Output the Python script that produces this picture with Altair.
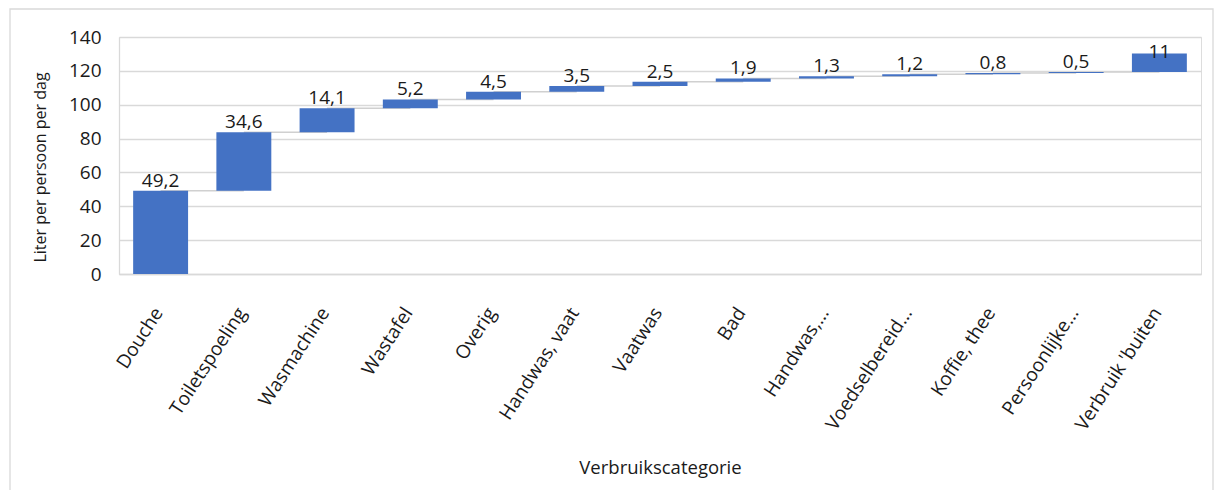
import altair as alt
import pandas as pd

# Water use per person per day, by category (litres)
categories = [
    "Douche", "Toiletspoeling", "Wasmachine", "Wastafel", "Overig",
    "Handwas, vaat", "Vaatwas", "Bad", "Handwas,…", "Voedselbereid…",
    "Koffie, thee", "Persoonlijke…", "Verbruik 'buiten",
]
values = [49.2, 34.6, 14.1, 5.2, 4.5, 3.5, 2.5, 1.9, 1.3, 1.2, 0.8, 0.5, 11]
y_ticks = [0, 20, 40, 60, 80, 100, 120, 140]

# Waterfall: each step starts where the previous one ended
starts, ends = [], []
running = 0.0
for v in values:
    starts.append(round(running, 2))
    running += v
    ends.append(round(running, 2))

bars_df = pd.DataFrame({
    "cat": categories,
    "start": starts,
    "end": ends,
    "label": [str(v).replace(".", ",") for v in values],
})

conn_df = pd.DataFrame({
    "cat": categories[:-1],
    "next_cat": categories[1:],
    "level": ends[:-1],
})

FONT = "Open Sans"
BLUE = "#4472C4"
GRID = "#d9d9d9"
INK = "#1a1a1a"

x_scale = alt.Scale(paddingInner=0.34, paddingOuter=0.17)
y_scale = alt.Scale(domain=[0, 140], nice=False)

x_axis = alt.Axis(
    title="Verbruikscategorie",
    labelAngle=-57,
    labelFontSize=19,
    labelPadding=35,
    labelOffset=-2,
    labelLimit=400,
    labelOverlap=False,
    ticks=False,
    grid=False,
    titleFontSize=18.5,
    titleY=193,
    titleBaseline="middle",
)

y_axis = alt.Axis(
    values=y_ticks,
    title="Liter per persoon per dag",
    labelFontSize=19,
    labelPadding=18,
    labelOverlap=False,
    ticks=False,
    grid=True,
    titleFontSize=16,
    titleX=-79,
    titleY=130,
    titleBaseline="middle",
    titleAlign="center",
)


def x_enc(field="cat"):
    return alt.X(f"{field}:N", sort=categories, scale=x_scale, axis=x_axis)


def y_enc(field):
    return alt.Y(f"{field}:Q", scale=y_scale, axis=y_axis)


bars = alt.Chart(bars_df).mark_bar(color=BLUE).encode(
    x=x_enc(),
    y=y_enc("start"),
    y2="end:Q",
)

connectors = alt.Chart(conn_df).mark_rule(color="#d0d0d0", strokeWidth=1.5).encode(
    x=x_enc(),
    x2="next_cat:N",
    y=y_enc("level"),
)

labels = alt.Chart(bars_df).transform_calculate(
    label_y="min(datum.end, 125)"
).mark_text(
    fontSize=19, font=FONT, baseline="alphabetic", dy=-4, color=INK
).encode(
    x=x_enc(),
    y=y_enc("label_y"),
    text="label:N",
)

# Light outer frame around the whole figure
frame = alt.Chart(pd.DataFrame({"k": [0]})).mark_rect(
    fill=None, stroke=GRID, strokeWidth=1.3
).encode(
    x=alt.value(-109), x2=alt.value(1094),
    y=alt.value(-28), y2=alt.value(470),
)

chart = alt.layer(frame, connectors, bars, labels).properties(
    width=1082,
    height=237,
    autosize=alt.AutoSizeParams(type="none"),
    padding={"left": 119, "top": 37, "right": 13, "bottom": 216},
    background="white",
).configure_view(
    stroke=None
).configure(
    font=FONT
).configure_axis(
    labelFont=FONT,
    labelColor=INK,
    titleFont=FONT,
    titleColor=INK,
    titleFontWeight="normal",
    domainColor=GRID,
    domainWidth=1.3,
    gridColor=GRID,
    gridWidth=1.3,
)

chart.save("out.html", embed_options={"renderer": "svg", "actions": False})
